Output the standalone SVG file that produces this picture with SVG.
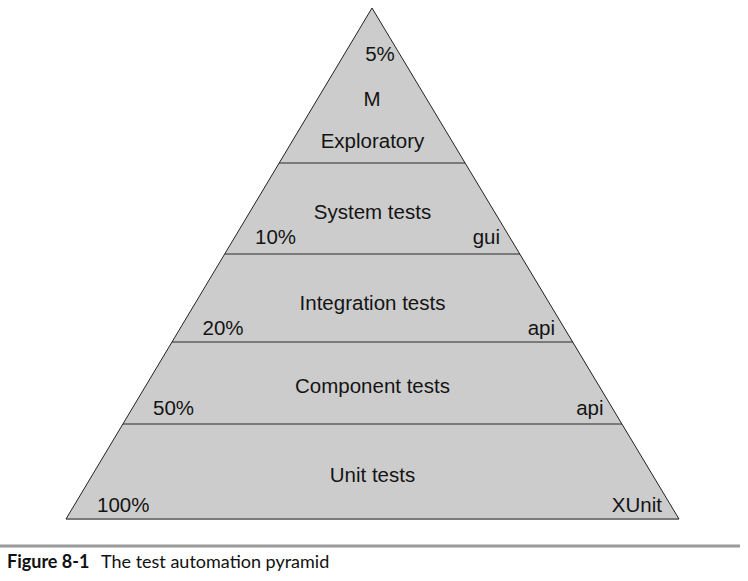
<svg xmlns="http://www.w3.org/2000/svg" width="748" height="581" viewBox="0 0 748 581">
  <style>
    .band { fill: #cccccc; stroke: none; }
    .sep { stroke: #7a7a7a; stroke-width: 2; fill: none; }
    .edge { stroke: #222222; stroke-width: 1; fill: none; }
    .lbl { font-family: "Liberation Sans", Arial, sans-serif; font-size: 20.5px; fill: #141414; }
    .mid { text-anchor: middle; }
    .end { text-anchor: end; }
    .cap { font-family: Lato, "Open Sans", sans-serif; font-size: 18px; fill: #111111; }
  </style>

  <!-- Top tier: manual / exploratory -->
  <g id="tier-exploratory">
    <polygon class="band" points="372,8 465,163 279,163"/>
    <text class="lbl mid" x="380" y="61">5%</text>
    <text class="lbl mid" x="372" y="106">M</text>
    <text class="lbl mid" x="372.5" y="148">Exploratory</text>
  </g>

  <!-- System tests tier -->
  <g id="tier-system">
    <polygon class="band" points="279,163 465,163 520,254 225,254"/>
    <text class="lbl mid" x="372.5" y="219">System tests</text>
    <text class="lbl" x="255" y="244">10%</text>
    <text class="lbl end" x="500" y="244">gui</text>
  </g>

  <!-- Integration tests tier -->
  <g id="tier-integration">
    <polygon class="band" points="225,254 520,254 573,342 172,342"/>
    <text class="lbl mid" x="372.5" y="310">Integration tests</text>
    <text class="lbl" x="202.5" y="335">20%</text>
    <text class="lbl end" x="555" y="335">api</text>
  </g>

  <!-- Component tests tier -->
  <g id="tier-component">
    <polygon class="band" points="172,342 573,342 622,424 123,424"/>
    <text class="lbl mid" x="372.5" y="393">Component tests</text>
    <text class="lbl" x="153" y="415">50%</text>
    <text class="lbl end" x="603.5" y="415">api</text>
  </g>

  <!-- Unit tests tier -->
  <g id="tier-unit">
    <polygon class="band" points="123,424 622,424 679,519 66,519"/>
    <text class="lbl mid" x="372.5" y="482">Unit tests</text>
    <text class="lbl" x="97" y="512">100%</text>
    <text class="lbl end" x="662" y="512">XUnit</text>
  </g>

  <!-- Tier separators and pyramid outline -->
  <g id="lines">
    <line class="sep" x1="279" y1="163" x2="465" y2="163"/>
    <line class="sep" x1="225" y1="254" x2="520" y2="254"/>
    <line class="sep" x1="172" y1="342" x2="573" y2="342"/>
    <line class="sep" x1="123" y1="424" x2="622" y2="424"/>
    <line class="sep" x1="66" y1="519" x2="679" y2="519"/>
    <path class="edge" d="M66,519 L372,8 L679,519"/>
  </g>

  <!-- Caption -->
  <g id="caption">
    <line x1="0" y1="546" x2="740" y2="546" stroke="#9a9a9a" stroke-width="3"/>
    <text class="cap" x="7" y="568"><tspan font-weight="bold">Figure 8-1</tspan><tspan x="101">The test automation pyramid</tspan></text>
  </g>
</svg>
